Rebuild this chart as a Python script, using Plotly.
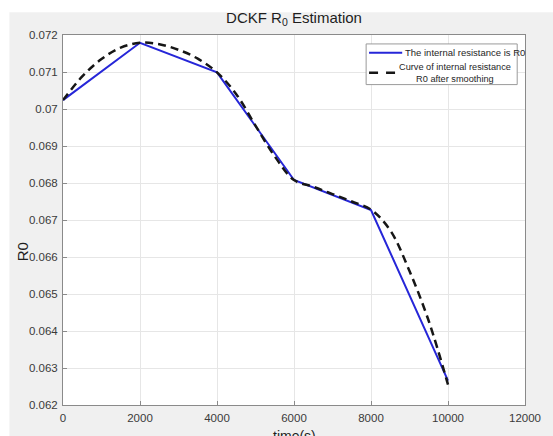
import plotly.graph_objects as go

# Estimated internal resistance R0 at each update time
time_s = [0, 2000, 4000, 6000, 8000, 10000]
r0 = [0.07024, 0.07179, 0.07099, 0.06808, 0.06727, 0.06266]

# Smoothed R0 curve
smooth_time_s = [0, 500, 1000, 1500, 2000, 2500, 3000, 3500, 4000, 4500, 5000,
                 5500, 6000, 6500, 7000, 7500, 8000, 8500, 9000, 9500, 10000]
smooth_r0 = [0.07024, 0.07088, 0.07135, 0.07166, 0.07179, 0.07175, 0.07160,
             0.07136, 0.07099, 0.07040, 0.06955, 0.06872, 0.06808, 0.06790,
             0.06770, 0.06750, 0.06728, 0.06672, 0.06562, 0.06427, 0.06255]

x_ticks = [0, 2000, 4000, 6000, 8000, 10000, 12000]
x_tick_labels = ["0", "2000", "4000", "6000", "8000", "10000", "12000"]
y_ticks = [0.062, 0.063, 0.064, 0.065, 0.066, 0.067, 0.068, 0.069, 0.070, 0.071, 0.072]
y_tick_labels = ["0.062", "0.063", "0.064", "0.065", "0.066", "0.067",
                 "0.068", "0.069", "0.07", "0.071", "0.072"]

W, H = 553, 436
L, R, T, B = 63, 16, 35, 28
PW, PH = W - L - R, H - T - B

def px(x):
    return (x - L) / PW

def py(y):
    return (H - B - y) / PH

FONT = "Liberation Sans, Arial, Helvetica, sans-serif"
BLUE = "#2626d8"
DARK = "#161616"

fig = go.Figure()
fig.add_trace(go.Scatter(x=time_s, y=r0, mode="lines",
                         line=dict(color=BLUE, width=2),
                         name="The internal resistance is R0", showlegend=False))
fig.add_trace(go.Scatter(x=smooth_time_s, y=smooth_r0, mode="lines",
                         line=dict(color=DARK, width=2.5, dash="8px,5px",
                                   shape="spline", smoothing=1),
                         name="Curve of internal resistance R0 after smoothing",
                         showlegend=False))

axis_common = dict(
    showline=True, linecolor="#8a8a8a", linewidth=1, mirror=True,
    showgrid=True, gridcolor="#e6e6e6", gridwidth=1,
    ticks="inside", ticklen=4, tickcolor="#8a8a8a",
    tickfont=dict(family=FONT, size=11.5, color="#3a3a3a"),
    zeroline=False,
)

fig.update_xaxes(range=[0, 12000], tickvals=x_ticks, ticktext=x_tick_labels,
                 ticklabelstandoff=2, **axis_common)
fig.update_yaxes(range=[0.062, 0.072], tickvals=y_ticks, ticktext=y_tick_labels,
                 ticklabelstandoff=2, **axis_common)

shapes = [
    # white margin strips around the grey figure panel
    dict(type="rect", xref="paper", yref="paper", x0=-1, x1=px(8), y0=-1, y1=2,
         fillcolor="white", line=dict(width=0), layer="below"),
    dict(type="rect", xref="paper", yref="paper", x0=-1, x1=2, y0=py(12), y1=2,
         fillcolor="white", line=dict(width=0), layer="below"),
    # legend box
    dict(type="rect", xref="paper", yref="paper", x0=px(374), x1=px(529),
         y0=py(85), y1=py(44), fillcolor="white",
         line=dict(color="#9a9a9a", width=1), layer="above"),
    # legend samples
    dict(type="line", xref="paper", yref="paper", x0=px(377), x1=px(411),
         y0=py(53), y1=py(53), line=dict(color=BLUE, width=2), layer="above"),
    dict(type="line", xref="paper", yref="paper", x0=px(377), x1=px(411),
         y0=py(73), y1=py(73), line=dict(color=DARK, width=2.5, dash="9px,8px"),
         layer="above"),
]

annotations = [
    dict(text="The internal resistance is R0", xref="paper", yref="paper",
         x=px(412), y=py(53), xanchor="left", yanchor="middle", showarrow=False,
         font=dict(family=FONT, size=9.5, color="#1e1e1e")),
    dict(text="Curve of internal resistance<br>R0 after smoothing", xref="paper",
         yref="paper", x=px(465), y=py(73), xanchor="center", yanchor="middle",
         align="center", showarrow=False,
         font=dict(family=FONT, size=9.2, color="#1e1e1e")),
    dict(text="R0", xref="paper", yref="paper", x=px(21), y=py(254),
         xanchor="center", yanchor="middle", textangle=-90, showarrow=False,
         font=dict(family=FONT, size=15, color="#1e1e1e")),
    dict(text="time(s)", xref="paper", yref="paper", x=0.5, y=py(429),
         xanchor="center", yanchor="top", showarrow=False,
         font=dict(family=FONT, size=14, color="#1e1e1e")),
]

fig.update_layout(
    width=W, height=H,
    margin=dict(l=L, r=R, t=T, b=B, pad=0),
    paper_bgcolor="#f0f0f0", plot_bgcolor="white",
    title=dict(text="DCKF R<sub>0</sub> Estimation", x=px(300), xref="paper",
               xanchor="center", y=(H - 18) / H, yref="container", yanchor="middle",
               font=dict(family=FONT, size=15, color="#1e1e1e")),
    shapes=shapes, annotations=annotations, showlegend=False,
)

fig.write_html("out.html")
